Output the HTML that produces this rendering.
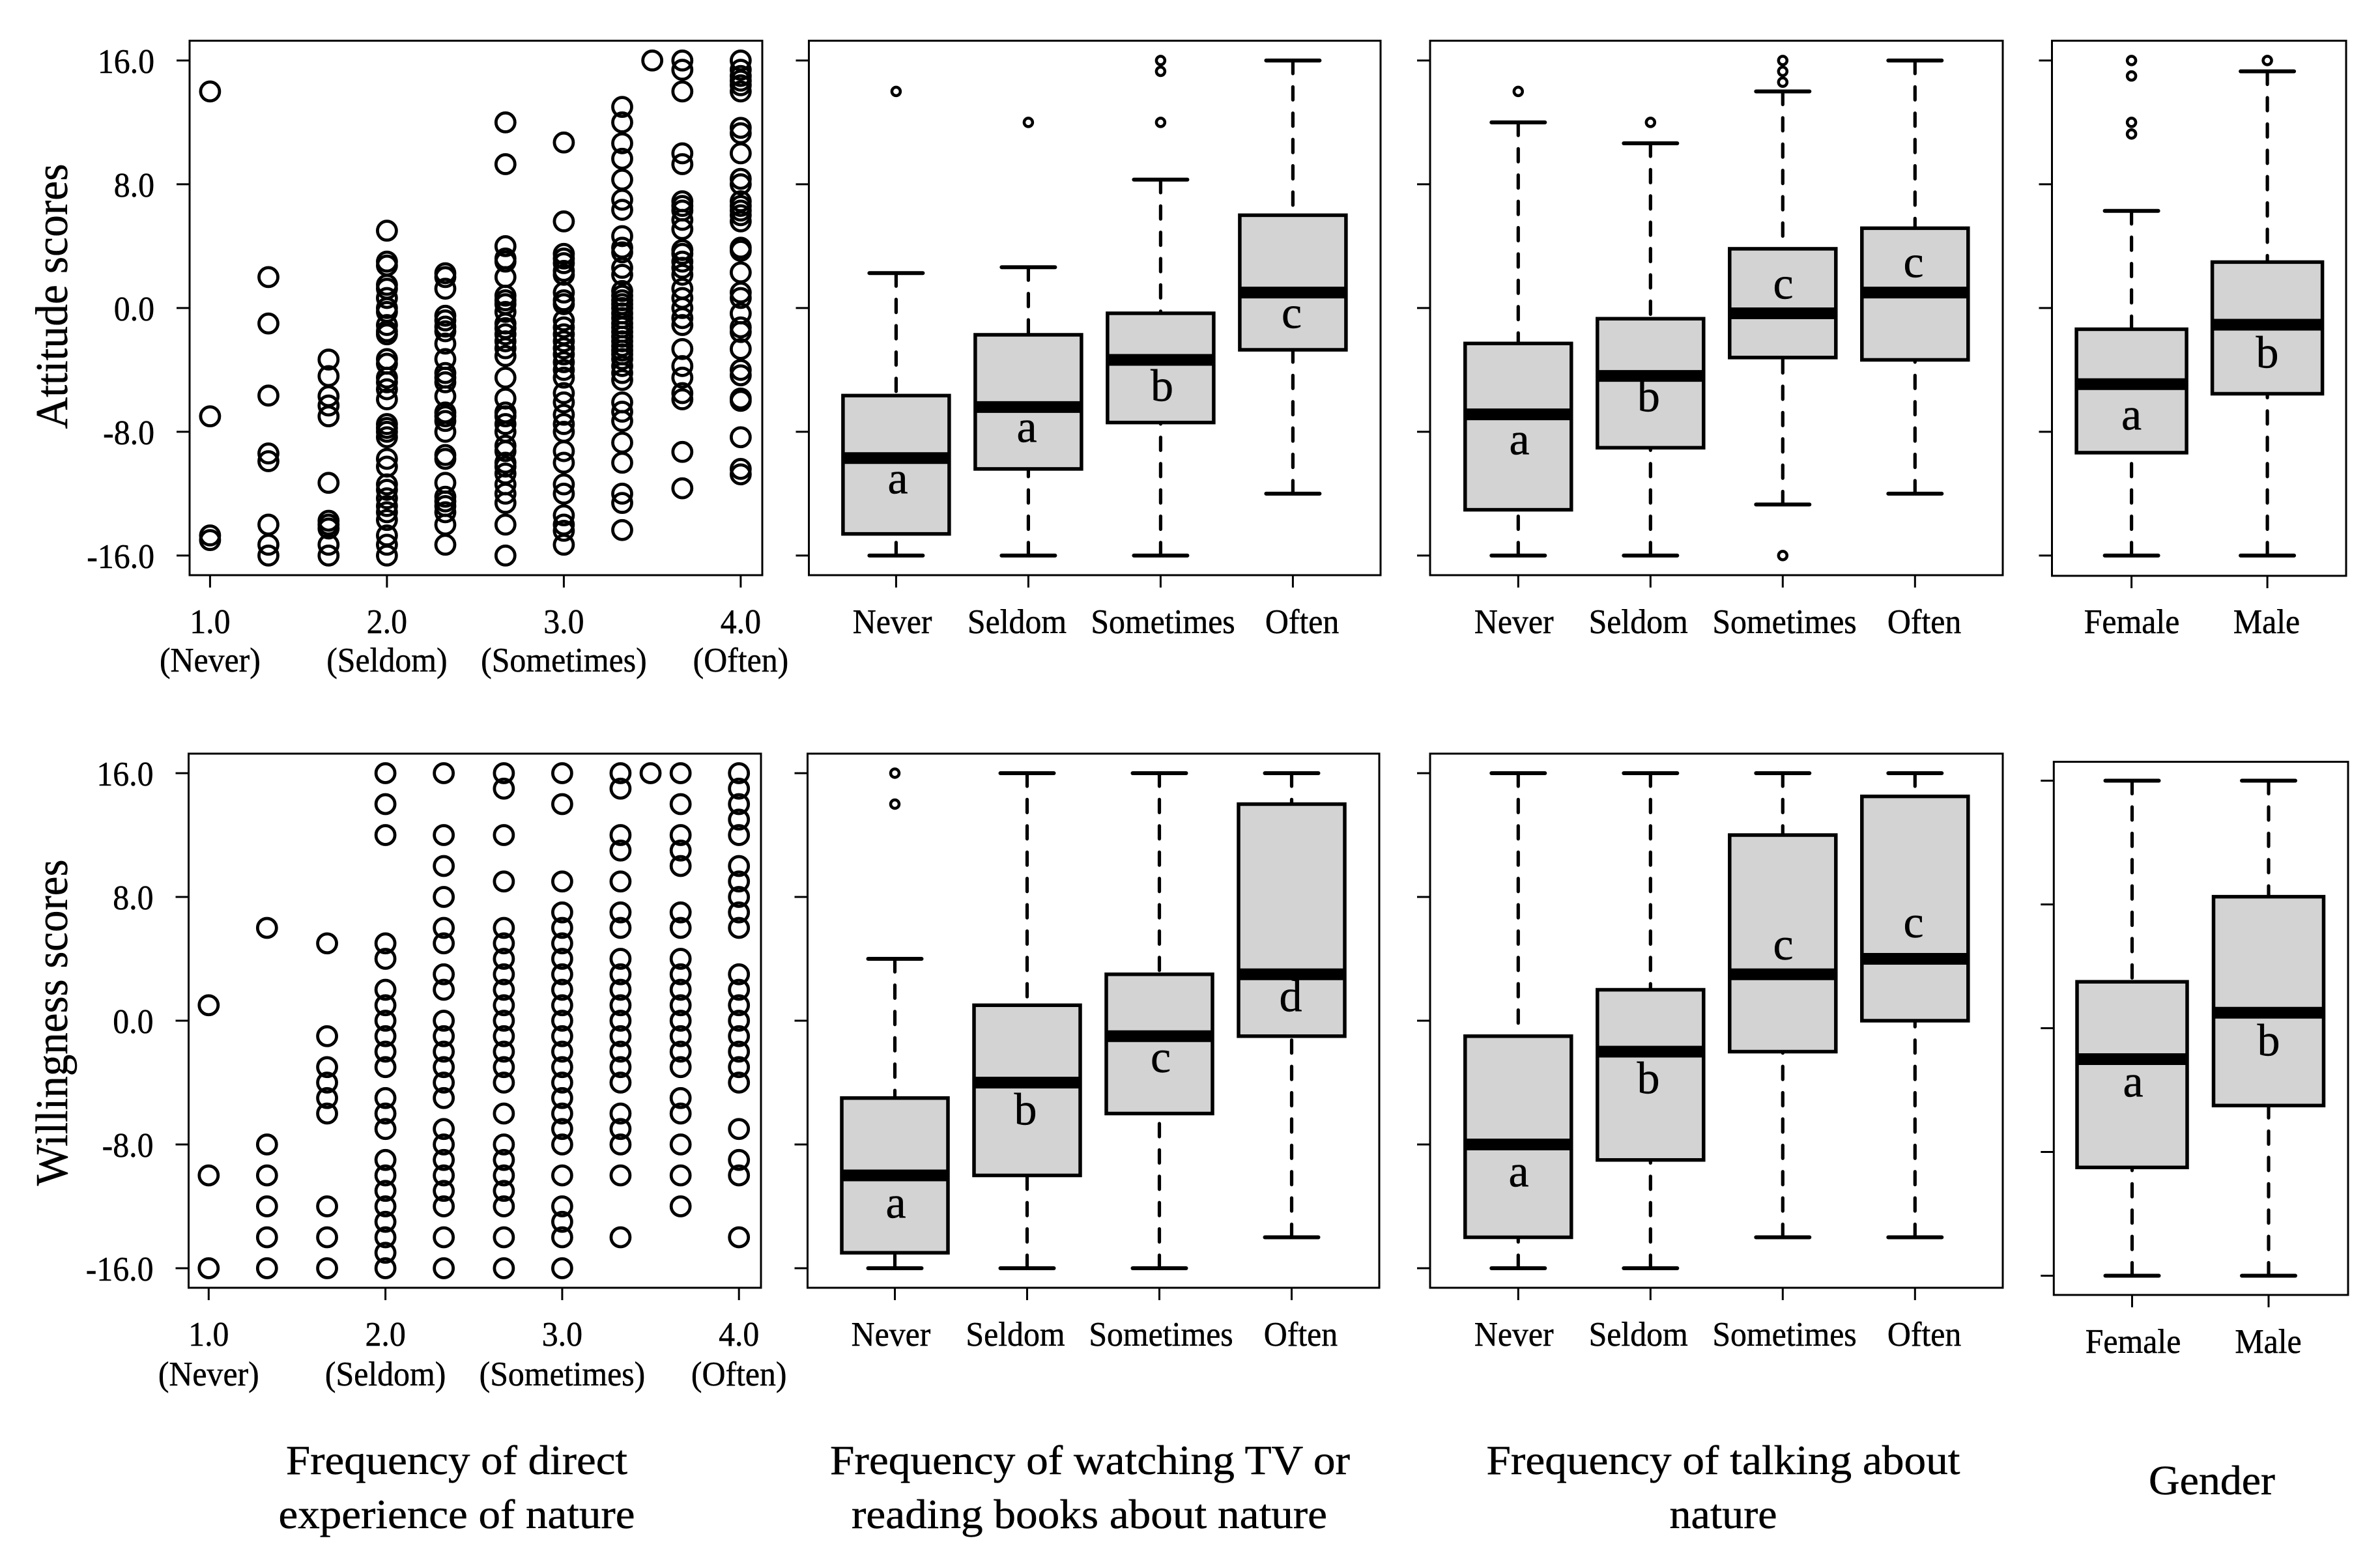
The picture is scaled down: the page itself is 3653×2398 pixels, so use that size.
<!DOCTYPE html>
<html lang="en">
<head>
<meta charset="utf-8">
<title>Attitude and willingness scores</title>
<style>
html,body{margin:0;padding:0;background:#fff;width:3653px;height:2398px;overflow:hidden}
svg{display:block}
text{font-family:"Liberation Serif",serif;fill:#000;stroke:#000;stroke-width:.5px}
</style>
</head>
<body>
<svg id="figure" xmlns="http://www.w3.org/2000/svg" width="3653" height="2398" viewBox="0 0 3653 2398">
<rect width="3653" height="2398" fill="#fff"/>
<text transform="translate(103,455) rotate(-90)" text-anchor="middle" font-size="70" textLength="407" lengthAdjust="spacingAndGlyphs">Attitude scores</text>
<text transform="translate(103,1570) rotate(-90)" text-anchor="middle" font-size="70" textLength="501" lengthAdjust="spacingAndGlyphs">Willingness scores</text>
<text x="701" y="2263" text-anchor="middle" font-size="64" textLength="524" lengthAdjust="spacingAndGlyphs">Frequency of direct</text>
<text x="701" y="2346" text-anchor="middle" font-size="64" textLength="547" lengthAdjust="spacingAndGlyphs">experience of nature</text>
<text x="1673" y="2263" text-anchor="middle" font-size="64" textLength="798" lengthAdjust="spacingAndGlyphs">Frequency of watching TV or</text>
<text x="1672" y="2346" text-anchor="middle" font-size="64" textLength="730" lengthAdjust="spacingAndGlyphs">reading books about nature</text>
<text x="2645" y="2263" text-anchor="middle" font-size="64" textLength="727" lengthAdjust="spacingAndGlyphs">Frequency of talking about</text>
<text x="2645" y="2346" text-anchor="middle" font-size="64" textLength="165" lengthAdjust="spacingAndGlyphs">nature</text>
<text x="3395" y="2294" text-anchor="middle" font-size="64" textLength="194" lengthAdjust="spacingAndGlyphs">Gender</text>
</svg>
<script>
// ---------- shared axis values ----------
const yTickValues = [16, 8, 0, -8, -16];
const yTickLabels = ['16.0', '8.0', '0.0', '-8.0', '-16.0'];
const xTickValues = [1, 2, 3, 4];
const xTickLabels = ['1.0', '2.0', '3.0', '4.0'];
const xTickNames = ['(Never)', '(Seldom)', '(Sometimes)', '(Often)'];
const frequencyCategories = ['Never', 'Seldom', 'Sometimes', 'Often'];
const genderCategories = ['Female', 'Male'];

// ---------- scatter data ----------
const directLevels = [1, 1.33, 1.67, 2, 2.33, 2.67, 3, 3.33, 3.5, 3.67, 4];
const attitudeByLevel = [
  [14, -7, -14.7, -15],
  [2, -1, -5.66, -9.4, -9.9, -14, -15.3, -16],
  [-3.33, -4.4, -5.7, -6.3, -7, -11.3, -13.75, -14, -14.25, -15.3, -16],
  [5, 3, 2.75, 1.5, 1.25, 0.65, 0, -0.25, -1.1, -1.5, -1.7, -3.3, -3.6, -4.5, -4.8, -5.25, -5.9, -7.5, -7.75, -8, -8.35, -9.75, -10.25, -11.4, -11.75, -12.3, -12.8, -13.2, -13.7, -14.7, -15.3, -16],
  [2.25, 2, 1.25, -0.5, -0.8, -1.2, -1.5, -2.3, -3.3, -4.2, -4.5, -4.8, -5.7, -6.75, -7, -7.3, -8, -9.5, -9.75, -11.3, -12.2, -12.5, -12.8, -13.2, -14, -15.3],
  [12, 9.3, 4, 3.2, 3, 2, 0.8, 0.5, 0.25, -0.25, -1, -1.3, -1.7, -2.15, -2.6, -3.1, -4.5, -5.85, -6.75, -7, -7.5, -8, -8.9, -9.25, -10, -10.25, -10.7, -11.4, -12, -12.6, -14, -16],
  [10.7, 5.6, 3.5, 3.2, 2.9, 2.4, 2.15, 1, 0.5, 0.25, -0.8, -1.25, -1.7, -2.15, -2.6, -3, -3.5, -4, -4.5, -5.5, -6.1, -6.9, -7.5, -8, -9.25, -10, -11.4, -12, -13.4, -14, -14.4, -15.3],
  [13, 12, 10.65, 9.65, 8.3, 7, 6.35, 4.65, 3.9, 3.6, 2.6, 2.15, 1.1, 0.8, 0.5, 0.25, 0, -0.35, -0.65, -1, -1.25, -1.55, -1.85, -2.15, -2.45, -2.75, -3, -3.3, -3.75, -4.2, -4.65, -6.1, -6.7, -7.3, -8.7, -10, -12, -12.6, -14.35],
  [16],
  [16, 15.4, 14, 10, 9.3, 6.9, 6.6, 6.3, 5.7, 5.1, 3.75, 3.5, 3, 2.6, 2.15, 1.25, 0.65, 0, -0.65, -1.1, -2.65, -3.75, -4.5, -5.5, -5.9, -9.3, -11.65],
  [16, 15.4, 15, 14.7, 14.4, 14, 11.65, 11.3, 10, 8.35, 8, 6.9, 6.6, 6.3, 6, 5.6, 3.9, 3.7, 2.3, 1, 0.65, -0.35, -1.25, -1.55, -2.65, -4, -4.35, -5.85, -6, -8.35, -10.4, -10.75]
];
const willingnessByLevel = [
  [1, -10, -16],
  [6, -8, -10, -12, -14, -16],
  [5, -1, -3, -4, -5, -6, -12, -14, -16],
  [16, 14, 12, 5, 4, 2, 1, 0, -1, -2, -3, -5, -6, -7, -9, -10, -11, -12, -13, -14, -15, -16],
  [16, 12, 10, 8, 6, 5, 3, 2, 0, -1, -2, -3, -4, -5, -7, -8, -9, -10, -11, -12, -14, -16],
  [16, 15, 12, 9, 6, 5, 4, 3, 2, 1, 0, -1, -2, -3, -4, -6, -8, -9, -10, -11, -12, -14, -16],
  [16, 14, 9, 7, 6, 5, 4, 3, 2, 1, 0, -1, -2, -3, -4, -5, -6, -7, -8, -10, -12, -13, -14, -16],
  [16, 15, 12, 11, 9, 7, 6, 4, 3, 2, 1, 0, -1, -2, -3, -4, -6, -7, -8, -10, -14],
  [16],
  [16, 14, 12, 11, 10, 7, 6, 4, 3, 2, 1, 0, -1, -2, -3, -5, -6, -8, -10, -12],
  [16, 15, 14, 13, 12, 10, 9, 8, 7, 6, 3, 2, 1, 0, -1, -2, -3, -4, -7, -9, -10, -14]
];

// ---------- boxplot data: [whisker low, Q1, median, Q3, whisker high] ----------
const tvAttitudeStats = [[-16, -14.6, -9.7, -5.66, 2.26], [-16, -10.4, -6.4, -1.73, 2.64], [-16, -7.4, -3.35, -0.34, 8.3], [-12, -2.7, 1, 6, 16]];
const tvAttitudeOutliers = [[14], [12], [16, 15.3, 12], []];
const tvAttitudeLetters = ['a', 'a', 'b', 'c'];
const tvAttitudeLetterAt = [-11.98, -8.65, -6, -1.29];

const talkAttitudeStats = [[-16, -13.04, -6.87, -2.29, 12], [-16, -9.03, -4.39, -0.69, 10.65], [-12.7, -3.2, -0.34, 3.83, 14], [-12, -3.35, 1, 5.16, 16]];
const talkAttitudeOutliers = [[14], [12], [16, 15.3, 14.6, -16], []];
const talkAttitudeLetters = ['a', 'b', 'c', 'c'];
const talkAttitudeLetterAt = [-9.45, -6.67, 0.61, 2];

const genderAttitudeStats = [[-16, -9.35, -4.92, -1.37, 6.28], [-16, -5.54, -1.08, 2.97, 15.3]];
const genderAttitudeOutliers = [[16, 15, 12, 11.25], [16]];
const genderAttitudeLetters = ['a', 'b'];
const genderAttitudeLetterAt = [-7.85, -3.85];

const tvWillingnessStats = [[-16, -15, -10, -5, 4], [-16, -10, -4, 1, 16], [-16, -6, -1, 3, 16], [-14, -1, 3, 14, 16]];
const tvWillingnessOutliers = [[16, 14], [], [], []];
const tvWillingnessLetters = ['a', 'b', 'c', 'd'];
const tvWillingnessLetterAt = [-12.73, -6.71, -3.33, 0.61];

const talkWillingnessStats = [[-16, -14, -8, -1, 16], [-16, -9, -2, 2, 16], [-14, -2, 3, 12, 16], [-14, 0, 4, 14.5, 16]];
const talkWillingnessOutliers = [[], [], [], []];
const talkWillingnessLetters = ['a', 'b', 'c', 'c'];
const talkWillingnessLetterAt = [-10.71, -4.69, 3.95, 5.38];

const genderWillingnessStats = [[-16, -9, -2, 3, 16], [-16, -5, 1, 8.5, 16]];
const genderWillingnessOutliers = [[], []];
const genderWillingnessLetters = ['a', 'b'];
const genderWillingnessLetterAt = [-4.42, -1.76];

// ---------- drawing ----------
const svg = document.getElementById('figure');
const NS = 'http://www.w3.org/2000/svg';
const UNIT = 23.75;
const FONT = 53;
const SQUEEZE = 0.94;

function mk(parent, tag, attrs) {
  const node = document.createElementNS(NS, tag);
  for (const key in attrs) node.setAttribute(key, attrs[key]);
  parent.appendChild(node);
  return node;
}
function label(parent, x, y, str) {
  const t = mk(parent, 'text', {transform: `translate(${x},${y}) scale(${SQUEEZE},1)`, 'text-anchor': 'middle', 'font-size': FONT});
  t.textContent = str;
  return t;
}
function drawFrame(g, p, prefix) {
  const f = mk(g, 'rect', {x: p.left, y: p.top, width: p.right - p.left, height: p.bottom - p.top, fill: 'none', stroke: '#000', 'stroke-width': 3});
  
  
}
function drawYTicks(g, p, y, prefix, withLabels) {
  yTickValues.forEach((v, i) => {
    const tick = mk(g, 'line', {x1: p.left - 20, x2: p.left, y1: y(v), y2: y(v), stroke: '#000', 'stroke-width': 3});
    
    
    if (withLabels) {
      const t = mk(g, 'text', {transform: `translate(${p.left - 54},${y(v) + 19}) scale(${SQUEEZE},1)`, 'text-anchor': 'end', 'font-size': FONT});
      t.textContent = yTickLabels[i];
      
      
    }
  });
}

function drawScatter(p, values, prefix) {
  const g = mk(svg, 'g', {});
  
  
  const x = v => p.x1 + (v - 1) * p.xStep;
  const y = v => p.y0 - UNIT * v;
  drawFrame(g, p, prefix);
  drawYTicks(g, p, y, prefix, true);
  xTickValues.forEach((v, i) => {
    const tick = mk(g, 'line', {x1: x(v), x2: x(v), y1: p.bottom, y2: p.bottom + 19, stroke: '#000', 'stroke-width': 3});
    
    
    const a = label(g, x(v), p.labelY, xTickLabels[i]);
    
    
    const b = label(g, x(v), p.nameY, xTickNames[i]);
    
    
  });
  directLevels.forEach((level, i) => {
    values[i].forEach((score, j) => {
      const c = mk(g, 'circle', {cx: x(level), cy: y(score), r: 14.5, fill: 'none', stroke: '#000', 'stroke-width': 4.8});
      
      
    });
  });
}

function drawBoxes(p, categories, stats, outliers, letters, letterAt, prefix) {
  const g = mk(svg, 'g', {});
  
  
  const x = i => p.cat0 + i * p.catStep;
  const y = v => p.y0 - UNIT * v;
  drawFrame(g, p, prefix);
  drawYTicks(g, p, y, prefix, false);
  categories.forEach((cat, i) => {
    const cx = x(i);
    const [lo, q1, med, q3, hi] = stats[i];
    const tick = mk(g, 'line', {x1: cx, x2: cx, y1: p.bottom, y2: p.bottom + 19, stroke: '#000', 'stroke-width': 3});
    
    
    const catLabel = label(g, p.labelCenters[i], p.labelY, cat);
    
    

    const upper = mk(g, 'line', {x1: cx, x2: cx, y1: y(hi), y2: y(q3), stroke: '#000', 'stroke-width': 5.2, 'stroke-dasharray': '20 20.4', 'stroke-linecap': 'round'});
    
    
    const lower = mk(g, 'line', {x1: cx, x2: cx, y1: y(lo), y2: y(q1), stroke: '#000', 'stroke-width': 5.2, 'stroke-dasharray': '20 20.4', 'stroke-linecap': 'round'});
    
    
    const capHi = mk(g, 'line', {x1: cx - 41, x2: cx + 41, y1: y(hi), y2: y(hi), stroke: '#000', 'stroke-width': 6, 'stroke-linecap': 'round'});
    
    
    const capLo = mk(g, 'line', {x1: cx - 41, x2: cx + 41, y1: y(lo), y2: y(lo), stroke: '#000', 'stroke-width': 6, 'stroke-linecap': 'round'});
    
    

    const box = mk(g, 'rect', {x: cx - p.boxHalf, y: y(q3), width: p.boxHalf * 2, height: y(q1) - y(q3), fill: '#d3d3d3', stroke: '#000', 'stroke-width': 5.5});
    
    
    const median = mk(g, 'line', {x1: cx - p.boxHalf, x2: cx + p.boxHalf, y1: y(med), y2: y(med), stroke: '#000', 'stroke-width': 18});
    
    

    outliers[i].forEach((v, j) => {
      const o = mk(g, 'circle', {cx: cx, cy: y(v), r: 6.5, fill: 'none', stroke: '#000', 'stroke-width': 4.5});
      
      
    });

    const letter = mk(g, 'text', {x: p.letterCenters[i], y: y(letterAt[i]), 'text-anchor': 'middle', 'font-size': 70});
    letter.textContent = letters[i];
    
    
  });
}

// ---------- panel layout ----------
const rowTop = {top: 62.5, bottom: 883, y0: 472.9, labelY: 972, nameY: 1031};
const rowBottom = {top: 1157, bottom: 1977, y0: 1567, labelY: 2066, nameY: 2127};

drawScatter(Object.assign({left: 291, right: 1170, x1: 322.4, xStep: 271.5}, rowTop), attitudeByLevel, 'attitude-direct');
drawScatter(Object.assign({left: 289.5, right: 1168, x1: 320.3, xStep: 271.3}, rowBottom), willingnessByLevel, 'willingness-direct');

drawBoxes(Object.assign({left: 1241.5, right: 2119, cat0: 1375.4, catStep: 203, boxHalf: 81.5, labelCenters: [1369.6, 1561, 1785, 1998.6], letterCenters: [1378, 1576, 1783.5, 1982.5]}, rowTop),
  frequencyCategories, tvAttitudeStats, tvAttitudeOutliers, tvAttitudeLetters, tvAttitudeLetterAt, 'attitude-tv');
drawBoxes(Object.assign({left: 2195, right: 3074, cat0: 2330.3, catStep: 203, boxHalf: 81.5, labelCenters: [2323.7, 2514.7, 2739, 2953.6], letterCenters: [2332, 2530.4, 2737, 2937]}, rowTop),
  frequencyCategories, talkAttitudeStats, talkAttitudeOutliers, talkAttitudeLetters, talkAttitudeLetterAt, 'attitude-talk');
drawBoxes(Object.assign({left: 3149.5, right: 3601, cat0: 3271.6, catStep: 208.5, boxHalf: 84.5, labelCenters: [3272, 3479], letterCenters: [3271.6, 3480]}, rowTop, {bottom: 884}),
  genderCategories, genderAttitudeStats, genderAttitudeOutliers, genderAttitudeLetters, genderAttitudeLetterAt, 'attitude-gender');

drawBoxes(Object.assign({left: 1239.5, right: 2117, cat0: 1373.5, catStep: 203, boxHalf: 81.5, labelCenters: [1367.5, 1558.5, 1782, 1996.5], letterCenters: [1375, 1574, 1781.6, 1981]}, rowBottom),
  frequencyCategories, tvWillingnessStats, tvWillingnessOutliers, tvWillingnessLetters, tvWillingnessLetterAt, 'willingness-tv');
drawBoxes(Object.assign({left: 2195, right: 3074, cat0: 2330.3, catStep: 203, boxHalf: 81.5, labelCenters: [2323.7, 2514.7, 2739, 2953.6], letterCenters: [2331, 2530, 2737, 2937]}, rowBottom),
  frequencyCategories, talkWillingnessStats, talkWillingnessOutliers, talkWillingnessLetters, talkWillingnessLetterAt, 'willingness-talk');
drawBoxes({left: 3152.3, right: 3604, top: 1169.5, bottom: 1988, y0: 1578.5, labelY: 2077, cat0: 3272.5, catStep: 209.5, boxHalf: 84.5, labelCenters: [3274, 3481.5], letterCenters: [3274, 3482]},
  genderCategories, genderWillingnessStats, genderWillingnessOutliers, genderWillingnessLetters, genderWillingnessLetterAt, 'willingness-gender');
</script>
</body>
</html>
